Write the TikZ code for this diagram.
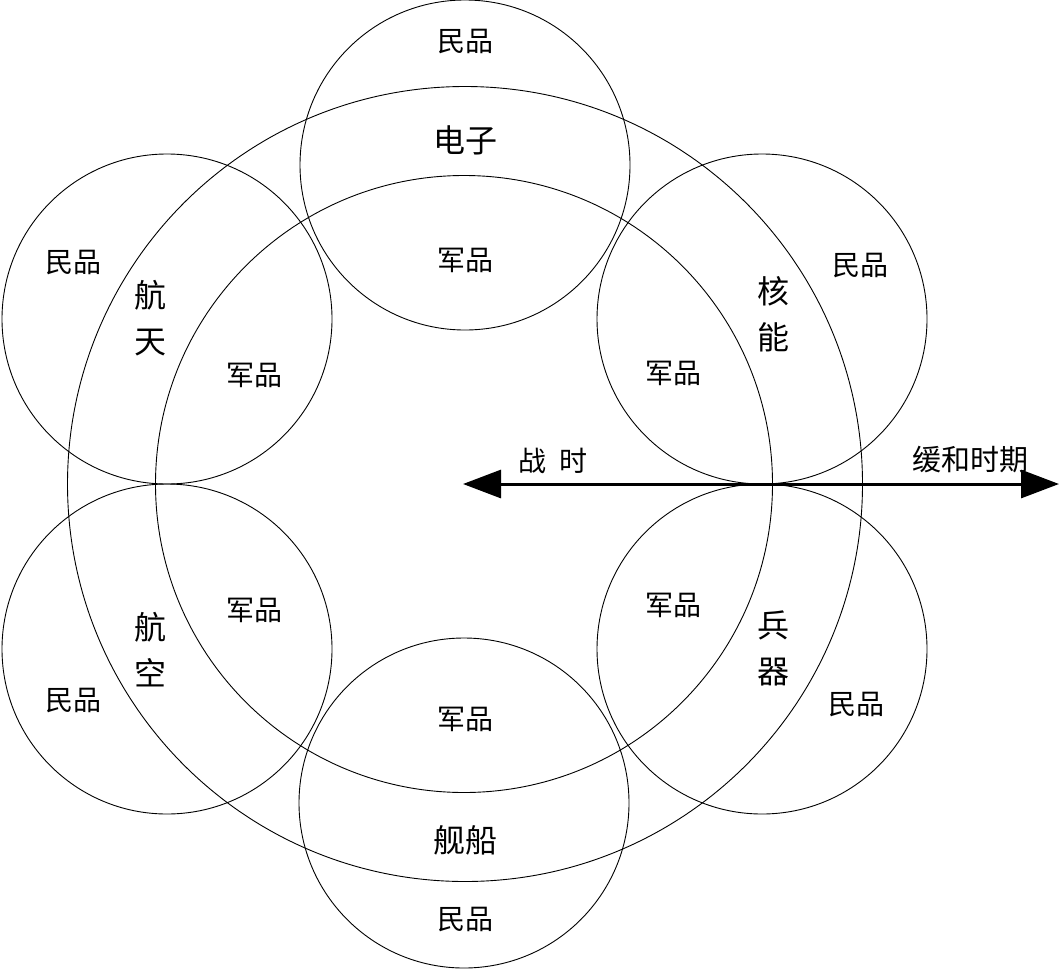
\documentclass[tikz,border=0pt]{standalone}
\usepackage{fontspec}
\newfontfamily\cjk{Noto Sans CJK SC}
\usetikzlibrary{arrows.meta}
\tikzset{
  ring/.style={circle, draw=black, line width=0.9pt, inner sep=0pt, minimum size=#1},
  lbl/.style={font=\cjk\fontsize{28}{28}\selectfont, inner sep=0pt},
  cat/.style={font=\cjk\fontsize{32}{46}\selectfont, inner sep=0pt, align=center},
  axis/.style={line width=3pt, {Triangle[length=38pt,width=28pt]}-{Triangle[length=38pt,width=28pt]}}
}
\begin{document}
\begin{tikzpicture}[x=1pt,y=-1pt]
\useasboundingbox (0,0) rectangle (1059,969);
% big circles
\node[ring=795pt] (outer) at (465,484) {};
\node[ring=617pt] (inner) at (464,484) {};
% six small circles
\node[ring=330pt] (ctop) at (465,165) {};
\node[ring=330pt] (clu) at (167,319) {};
\node[ring=330pt] (cru) at (762,319) {};
\node[ring=330pt] (cll) at (167,649) {};
\node[ring=330pt] (crl) at (762,649) {};
\node[ring=330pt] (cbot) at (464,803) {};
% axis arrow
\coordinate (aL) at (463,484);
\coordinate (aR) at (1059,484);
\draw[axis] (aL) -- (aR);
% labels
\node[lbl] (t1) at (465,42) {民品};
\node[cat] (t2) at (465,140) {电子};
\node[lbl] (t3) at (465,260) {军品};
\node[lbl] (t4) at (73,263) {民品};
\node[cat] (t5) at (150,318) {航\\天};
\node[lbl] (t6) at (254,375) {军品};
\node[lbl] (t7) at (860,266) {民品};
\node[cat] (t8) at (773,314) {核\\能};
\node[lbl] (t9) at (673,373) {军品};
\node[lbl] (t10) at (553,461) {战\hspace{0.45em}时};
\node[lbl,font=\cjk\fontsize{29}{29}\selectfont] (t11) at (970,460) {缓和时期};
\node[lbl] (t12) at (254,610) {军品};
\node[cat] (t13) at (150,650) {航\\空};
\node[lbl] (t14) at (73,701) {民品};
\node[lbl] (t15) at (673,605) {军品};
\node[cat] (t16) at (773,648) {兵\\器};
\node[lbl] (t17) at (856,705) {民品};
\node[lbl] (t18) at (465,719) {军品};
\node[cat] (t19) at (465,840) {舰船};
\node[lbl] (t20) at (465,920) {民品};
\end{tikzpicture}
\end{document}
